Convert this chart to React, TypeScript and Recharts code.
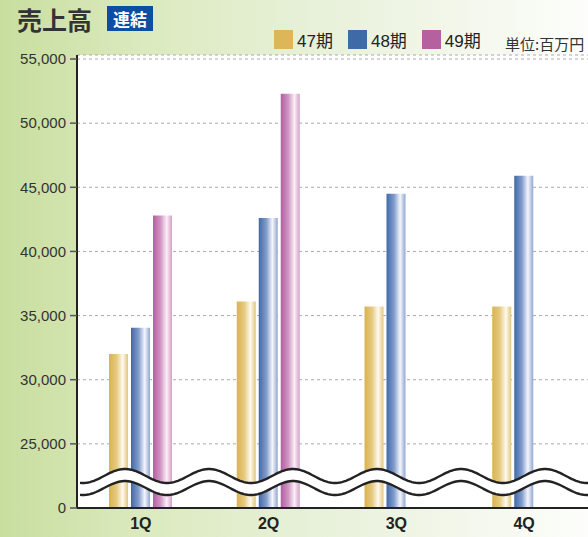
import React from 'react';
import { BarChart, Bar, XAxis, YAxis, CartesianGrid, ReferenceArea } from 'recharts';

// ---- data ----
const quarters = ['1Q', '2Q', '3Q', '4Q'];
const sales47 = [32000, 36100, 35700, 35700];
const sales48 = [34050, 42600, 44500, 45900];
const sales49: (number | null)[] = [42800, 52300, null, null];
const seriesNames = ['47期', '48期', '49期'];
const tickValues = [0, 25000, 30000, 35000, 40000, 45000, 50000, 55000];
const breakFrom = 25000; // axis break: 0 … 25,000 compressed into one step
const stepSize = 5000;

// transform for broken axis
const toAxis = (v: number | null) =>
  v == null ? null : v >= breakFrom ? v - breakFrom + stepSize : (v / breakFrom) * stepSize;
const fromAxis = (t: number) => (t <= stepSize ? Math.round((t / stepSize) * breakFrom) : t + breakFrom - stepSize);

const data = quarters.map((q, i) => ({
  q,
  a: toAxis(sales47[i]),
  b: toAxis(sales48[i]),
  c: toAxis(sales49[i]),
}));
const axisTicks = tickValues.map((v) => toAxis(v) as number);

const COLORS = ['#DDB65A', '#3F6AA8', '#B5609F'];
const FONT = '"Liberation Sans", Arial, "Noto Sans CJK JP", sans-serif';

const WaveBand = (props: any) => {
  const { x, y, width, height } = props;
  const A = 7;
  const period = 84;
  const peak = x + 48;
  const start = x + 3;
  const end = x + width;
  const cu = y + A;
  const cl = y + height - A;
  const up: string[] = [];
  const lo: string[] = [];
  for (let px = start; px <= end + 0.01; px += 2) {
    const w = Math.cos((2 * Math.PI * (px - peak)) / period);
    up.push(`${px.toFixed(1)},${(cu - A * w).toFixed(2)}`);
    lo.push(`${px.toFixed(1)},${(cl - A * w).toFixed(2)}`);
  }
  const fillPath = `M${up.join(' L')} L${lo.slice().reverse().join(' L')} Z`;
  return (
    <g>
      <path d={fillPath} fill="#fff" stroke="none" />
      <path d={`M${up.join(' L')}`} fill="none" stroke="#222" strokeWidth={2.4} />
      <path d={`M${lo.join(' L')}`} fill="none" stroke="#222" strokeWidth={2.4} />
    </g>
  );
};

export default function App() {
  return (
    <div
      style={{
        position: 'absolute',
        left: 0,
        top: 0,
        width: 588,
        height: 537,
        overflow: 'hidden',
        background: 'linear-gradient(to right, #C8DE9F 0%, #DCEABF 25%, #E8F1DA 55%, #F6F9F0 85%, #FDFEFB 100%)',
        fontFamily: FONT,
      }}
    >
      <div
        style={{
          position: 'absolute',
          left: 17,
          top: 3,
          fontSize: 25,
          fontWeight: 700,
          color: '#333',
          fontFamily: '"Noto Sans CJK JP", sans-serif',
          lineHeight: '32px',
        }}
      >
        売上高
      </div>
      <div
        style={{
          position: 'absolute',
          left: 107,
          top: 6,
          width: 46,
          height: 25,
          background: '#0B4EA2',
          color: '#fff',
          fontSize: 17,
          fontWeight: 700,
          fontFamily: '"Noto Sans CJK JP", sans-serif',
          lineHeight: '25px',
          textAlign: 'center',
        }}
      >
        連結
      </div>
      <div style={{ position: 'absolute', left: 274, top: 30, height: 19, display: 'flex', alignItems: 'center' }}>
        {seriesNames.map((n, i) => (
          <div key={n} style={{ display: 'flex', alignItems: 'center', marginRight: i < 2 ? 15 : 0 }}>
            <div style={{ width: 19, height: 19, background: COLORS[i] }} />
            <span style={{ marginLeft: 4, fontSize: 17, color: '#222', fontFamily: FONT }}>{n}</span>
          </div>
        ))}
      </div>
      <div
        style={{
          position: 'absolute',
          left: 505,
          top: 33,
          fontSize: 15,
          color: '#333',
          fontFamily: '"Noto Sans CJK JP", sans-serif',
          whiteSpace: 'nowrap',
        }}
      >
        単位:百万円
      </div>
      <BarChart
        width={588}
        height={537}
        data={data}
        margin={{ top: 55, right: 0, left: 0, bottom: 0 }}
        barSize={19}
        barGap={3}
      >
        <defs>
          <linearGradient id="g47" x1="0" y1="0" x2="1" y2="0">
            <stop offset="0%" stopColor="#D9B252" />
            <stop offset="40%" stopColor="#E6CA80" />
            <stop offset="72%" stopColor="#FEFAF0" />
            <stop offset="100%" stopColor="#E3C57A" />
          </linearGradient>
          <linearGradient id="g48" x1="0" y1="0" x2="1" y2="0">
            <stop offset="0%" stopColor="#3F6AA8" />
            <stop offset="40%" stopColor="#829CCB" />
            <stop offset="72%" stopColor="#F4F6FB" />
            <stop offset="100%" stopColor="#90A6D2" />
          </linearGradient>
          <linearGradient id="g49" x1="0" y1="0" x2="1" y2="0">
            <stop offset="0%" stopColor="#B25F9F" />
            <stop offset="40%" stopColor="#D196C4" />
            <stop offset="72%" stopColor="#FAEFF7" />
            <stop offset="100%" stopColor="#D3A0C8" />
          </linearGradient>
        </defs>
        <CartesianGrid vertical={false} strokeDasharray="3 3" stroke="#AAAAAA" fill="#FFFFFF" />
        <XAxis
          dataKey="q"
          height={29}
          axisLine={{ stroke: '#222', strokeWidth: 2 }}
          tickLine={false}
          tickMargin={4}
          tick={{ fontSize: 16, fontWeight: 700, fill: '#222', fontFamily: FONT }}
        />
        <YAxis
          width={77}
          type="number"
          domain={[0, 35312]}
          ticks={axisTicks}
          interval={0}
          allowDataOverflow
          tickFormatter={(t: number) => fromAxis(t).toLocaleString('en-US')}
          axisLine={{ stroke: '#222', strokeWidth: 2 }}
          tickLine={{ stroke: '#555', strokeWidth: 1.5 }}
          tickSize={7}
          tickMargin={4}
          tick={{ fontSize: 15, fill: '#333', fontFamily: FONT }}
        />
        <Bar dataKey="a" name={seriesNames[0]} fill="url(#g47)" isAnimationActive={false} />
        <Bar dataKey="b" name={seriesNames[1]} fill="url(#g48)" isAnimationActive={false} />
        <Bar dataKey="c" name={seriesNames[2]} fill="url(#g49)" isAnimationActive={false} />
        <ReferenceArea
          y1={1010}
          y2={3040}
          shape={WaveBand}
          ifOverflow="visible"
          isFront
          {...({ zIndex: 1500 } as any)}
        />
      </BarChart>
    </div>
  );
}
